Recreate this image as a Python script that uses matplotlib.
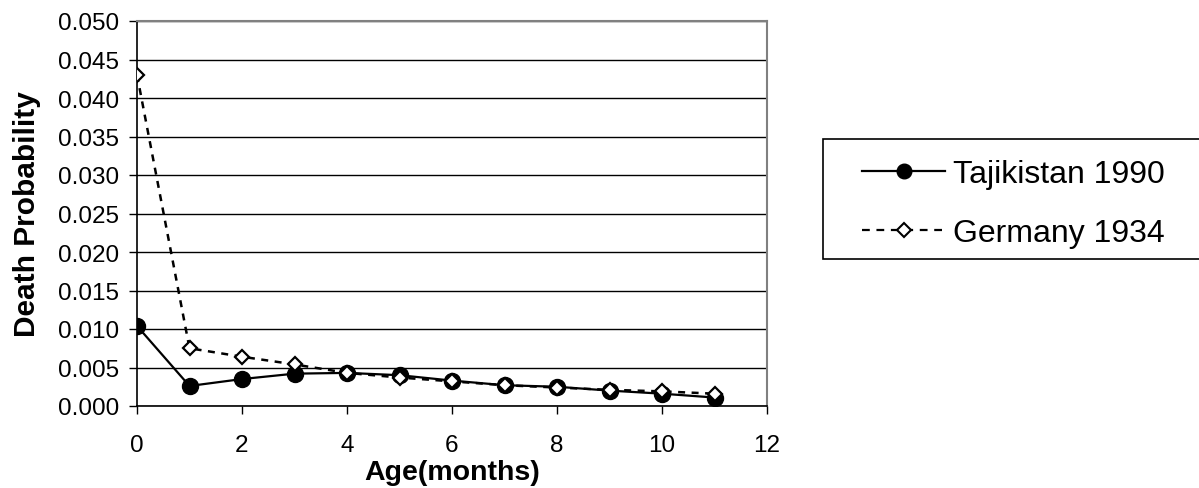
import matplotlib.pyplot as plt
from matplotlib.lines import Line2D
from matplotlib.patches import Rectangle

plt.rcParams['font.family'] = ['Liberation Sans', 'DejaVu Sans']

# ages in months and death probabilities
age = [0, 1, 2, 3, 4, 5, 6, 7, 8, 9, 10, 11]
tajikistan = [0.0104, 0.0026, 0.0035, 0.0042, 0.0043, 0.0040,
              0.0033, 0.0027, 0.0025, 0.0020, 0.0016, 0.0011]
germany = [0.0430, 0.0075, 0.0064, 0.0054, 0.0043, 0.0037,
           0.0032, 0.0027, 0.0024, 0.0021, 0.0019, 0.0016]
yticks = [0.000, 0.005, 0.010, 0.015, 0.020, 0.025, 0.030, 0.035, 0.040, 0.045, 0.050]
labels = ['Tajikistan 1990', 'Germany 1934']

W, H = 1199, 489
fig = plt.figure(figsize=(W / 100, H / 100), dpi=100)
ax = fig.add_axes([137 / W, 1 - 407 / H, 630 / W, 385 / H])

ax.plot(age, tajikistan, color='black', linewidth=1.6, marker='o',
        markersize=11.5, markerfacecolor='black', zorder=3)
ax.plot(age, germany, color='black', linewidth=1.8, linestyle=(0, (2.8, 2.6)),
        marker='D', markersize=7.5, markerfacecolor='white',
        markeredgewidth=1.6, zorder=4)

ax.set_xlim(0, 12)
ax.set_ylim(0, 0.05)
ax.set_xticks(range(0, 13, 2))
ax.set_yticks(yticks)
ax.set_yticklabels([f'{v:.3f}' for v in yticks])
ax.tick_params(labelsize=17.5, direction='out', length=6, width=1, color='black')
ax.tick_params(axis='x', pad=14)
ax.tick_params(axis='y', pad=7)
ax.grid(axis='y', color='black', linewidth=1)
ax.set_axisbelow(True)

for side in ['top', 'right']:
    ax.spines[side].set_color('#808080')
    ax.spines[side].set_linewidth(1.5)
ax.spines['left'].set_linewidth(1.2)
ax.spines['bottom'].set_linewidth(1.2)

ax.set_xlabel('Age(months)', fontsize=20.5, fontweight='bold', labelpad=2)
ax.set_ylabel('Death Probability', fontsize=21.5, fontweight='bold', labelpad=12)

# legend box, open on the right like the original
fig.patches.append(Rectangle((823 / W, 1 - 260 / H), 400 / W, 120 / H,
                             transform=fig.transFigure, facecolor='white',
                             edgecolor='black', linewidth=1.2, zorder=1))
handles = [
    Line2D([], [], color='black', linewidth=1.6, marker='o', markersize=10.5),
    Line2D([], [], color='black', linewidth=1.6, linestyle=(0, (3.5, 3)),
           marker='D', markersize=7, markerfacecolor='white', markeredgewidth=1.5),
]
fig.legend(handles, labels, loc='upper left',
           bbox_to_anchor=(862 / W, 1 - 160 / H), fontsize=23, frameon=False,
           borderpad=0, borderaxespad=0, handlelength=2.6, handletextpad=0.25,
           labelspacing=0.92)

fig.savefig('out.png', dpi=100)
